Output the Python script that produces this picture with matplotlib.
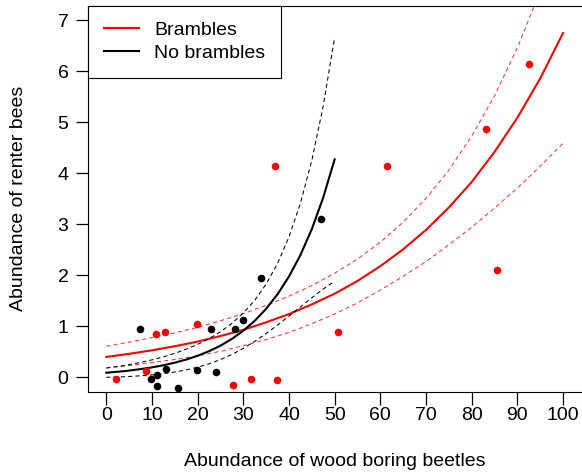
import numpy as np
import matplotlib.pyplot as plt

plt.rcParams['font.family'] = ['Liberation Sans', 'DejaVu Sans']

# observed points, sites with brambles (red) and without (black)
bram_x = [2.2, 8.8, 10.8, 12.8, 19.8, 27.7, 31.7, 37.3, 37.0, 50.8, 61.4, 83.2, 85.6, 92.5]
bram_y = [-0.03, 0.12, 0.84, 0.88, 1.04, -0.16, -0.03, -0.05, 4.14, 0.88, 4.15, 4.86, 2.10, 6.14]

nobr_x = [7.3, 9.9, 11.1, 11.0, 13.0, 15.8, 19.8, 22.9, 24.0, 28.1, 30.0, 33.8, 47.1]
nobr_y = [0.94, -0.03, 0.04, -0.18, 0.17, -0.20, 0.14, 0.94, 0.11, 0.95, 1.12, 1.95, 3.10]

bram_fx = [0, 5, 10, 15, 20, 25, 30, 35, 40, 45, 50, 55, 60, 65, 70, 75, 80, 85, 90, 95, 100]
bram_fit = [0.40, 0.46, 0.53, 0.61, 0.70, 0.81, 0.93, 1.08, 1.24, 1.43, 1.64, 1.89, 2.18, 2.51,
            2.89, 3.33, 3.83, 4.42, 5.09, 5.86, 6.75]
bram_up = [0.61, 0.69, 0.78, 0.87, 0.98, 1.11, 1.25, 1.41, 1.59, 1.80, 2.04, 2.32, 2.65, 3.04,
           3.51, 4.06, 4.73, 5.52, 6.46, 7.57, 8.90]
bram_lo = [0.19, 0.23, 0.29, 0.35, 0.42, 0.51, 0.62, 0.74, 0.88, 1.05, 1.24, 1.46, 1.71, 1.98,
           2.27, 2.60, 2.94, 3.32, 3.71, 4.14, 4.59]

# fitted curve + confidence band, no brambles (every 2.5 units)
nobr_fx = [0, 2.5, 5, 7.5, 10, 12.5, 15, 17.5, 20, 22.5, 25, 27.5, 30, 32.5, 35, 37.5, 40, 42.5,
           45, 47.5, 50]
nobr_fit = [0.090, 0.109, 0.132, 0.161, 0.195, 0.236, 0.287, 0.348, 0.422, 0.512, 0.620, 0.753,
            0.913, 1.107, 1.343, 1.629, 1.975, 2.396, 2.906, 3.525, 4.274]
nobr_up = [0.180, 0.211, 0.248, 0.292, 0.342, 0.400, 0.470, 0.551, 0.646, 0.759, 0.893, 1.058,
           1.259, 1.510, 1.828, 2.233, 2.750, 3.412, 4.253, 5.319, 6.664]
nobr_lo = [0.000, 0.007, 0.016, 0.030, 0.048, 0.072, 0.104, 0.145, 0.198, 0.265, 0.347, 0.448,
           0.567, 0.704, 0.858, 1.025, 1.200, 1.380, 1.559, 1.731, 1.884]

x_ticks = np.arange(0, 101, 10)
y_ticks = np.arange(0, 8, 1)

W, H = 582, 476
FS = 14
fig = plt.figure(figsize=(W / 100, H / 100), dpi=100)
# plot region in pixels: x 88..581, y 6..392 (from top)
ax = fig.add_axes([88 / W, (H - 391.6) / H, (581.3 - 88) / W, (391.6 - 6) / H])

ax.scatter(bram_x, bram_y, s=30, color='red', linewidths=0, zorder=3)
ax.scatter(nobr_x, nobr_y, s=30, color='black', linewidths=0, zorder=3)

dash = (0, (4, 3))
ax.plot(bram_fx, bram_fit, color='red', lw=1.5, label='Brambles')
ax.plot(bram_fx, bram_up, color='red', lw=0.75, ls=dash, alpha=0.8)
ax.plot(bram_fx, bram_lo, color='red', lw=0.75, ls=dash, alpha=0.8)

ax.plot(nobr_fx, nobr_fit, color='black', lw=1.5, label='No brambles')
ax.plot(nobr_fx, nobr_up, color='black', lw=0.75, ls=dash)
ax.plot(nobr_fx, nobr_lo, color='black', lw=0.75, ls=dash)

ax.set_xlim(-4, 104)
ax.set_ylim(-0.28, 7.28)
ax.set_xticks(x_ticks)
ax.set_yticks(y_ticks)
ax.tick_params(axis='both', direction='out', length=9, width=0.9, labelsize=FS)
ax.tick_params(axis='x', pad=2)
ax.tick_params(axis='y', pad=5)

for side in ['left', 'bottom', 'top']:
    ax.spines[side].set_linewidth(0.8)
    ax.spines[side].set_color('black')
ax.spines['right'].set_visible(False)

ax.set_xlabel('Abundance of wood boring beetles', fontsize=FS)
ax.xaxis.set_label_coords(0.5, -(462 - 391.6) / 385.6)
ax.xaxis.label.set_va('center')
ax.set_ylabel('Abundance of renter bees', fontsize=FS)
ax.yaxis.set_label_coords((18 - 88) / 493.3, 0.5)
ax.yaxis.label.set_va('center')

leg = ax.legend(loc='upper left', bbox_to_anchor=(0, 1), borderaxespad=0, fontsize=FS,
                fancybox=False, framealpha=1, edgecolor='black', handlelength=1.8,
                handletextpad=0.8, borderpad=0.8, labelspacing=0.27)
leg.get_frame().set_linewidth(0.8)

fig.savefig('out.png', dpi=100)
